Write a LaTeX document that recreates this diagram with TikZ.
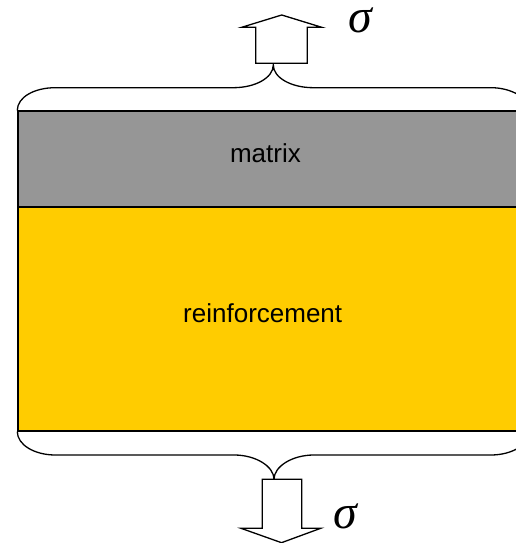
\documentclass[tikz,border=0pt]{standalone}
\usepackage{fontspec}
\setmainfont{Liberation Sans}
\newfontfamily\sigfont{Liberation Serif}
\definecolor{matgray}{RGB}{150,150,150}
\definecolor{reinfyellow}{RGB}{255,204,0}
\tikzset{
  line/.style={line width=1.3pt, black},
  layer/.style={line, draw, inner sep=0pt, anchor=south west},
  lbl/.style={font=\fontsize{26}{30}\selectfont, anchor=base, inner sep=0pt},
  sig/.style={font=\sigfont\itshape\fontsize{48}{52}\selectfont, inner sep=0pt, anchor=base},
  arrowshape/.style={line, fill=white, line join=miter}
}
\begin{document}
\begin{tikzpicture}[x=1pt,y=1pt]
\clip (0,0) rectangle (516,543);
% layers
\node[layer, fill=reinfyellow, minimum width=511.7pt, minimum height=224pt] (reinf) at (17.3,111.3) {};
\node[layer, fill=matgray, minimum width=511.7pt, minimum height=96pt] (matrix) at (17.3,335.3) {};
\node[lbl] (tm) at (265.4,380.3) {matrix};
\node[lbl] (tr) at (262.7,220.3) {reinforcement};
% top brace
\coordinate (tbtip) at (273.3,478);
\draw[line] (matrix.north west) .. controls +(0,13.2) and (34.3,455.3) .. (55.3,455.3)
  -- (233.3,455.3) .. controls (255.4,455.3) and (273.3,465.3) .. (tbtip)
  .. controls (273.3,465.3) and (291.2,455.3) .. (313.3,455.3)
  -- (491,455.3) .. controls (512,455.3) and (529,444.5) .. (matrix.north east);
% bottom brace
\coordinate (bbtip) at (274,63.7);
\draw[line] (reinf.south west) .. controls +(0,-13) and (34.3,88) .. (55.3,88)
  -- (234,88) .. controls (256.1,88) and (274,76.4) .. (bbtip)
  .. controls (274,76.4) and (291.9,88) .. (314,88)
  -- (491,88) .. controls (512,88) and (529,98.5) .. (reinf.south east);
% top arrow
\draw[arrowshape] (255.7,479.7) -- (255.7,515.7) -- (241.7,515.7) -- (281.7,528)
  -- (321.7,515.7) -- (307.3,515.7) -- (307.3,479.7) -- cycle;
% bottom arrow
\draw[arrowshape] (262.3,63.7) -- (262.3,14.7) -- (241,14.7) -- (281.5,0.3)
  -- (320.7,14.7) -- (301.7,14.7) -- (301.7,63.7) -- cycle;
% sigmas
\node[sig] (st) at (360,510) {\smash{σ}};
\node[sig] (sb) at (345,14) {\smash{σ}};
\end{tikzpicture}
\end{document}
